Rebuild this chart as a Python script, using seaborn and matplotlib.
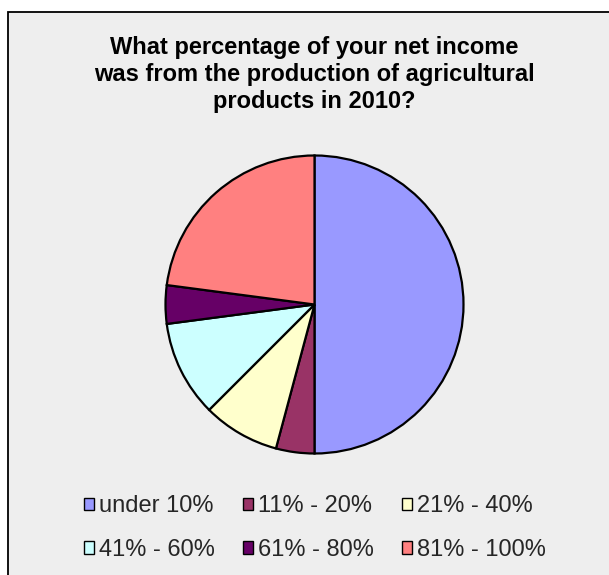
import matplotlib
matplotlib.use("Agg")
import matplotlib.pyplot as plt
from matplotlib.patches import Rectangle, Patch
import seaborn as sns

# Survey responses (count of respondents per income share band)
categories = ["under 10%", "11% - 20%", "21% - 40%", "41% - 60%", "61% - 80%", "81% - 100%"]
counts = [24, 2, 4, 5, 2, 11]
slice_colors = ["#9999FF", "#993366", "#FFFFCC", "#CCFFFF", "#660066", "#FF8080"]
title = "What percentage of your net income\nwas from the production of agricultural\nproducts in 2010?"

sns.set_style("white")
plt.rcParams["font.family"] = ["Liberation Sans", "DejaVu Sans"]

W, H = 609, 575
fig = plt.figure(figsize=(W / 100, H / 100), dpi=100)
fig.patch.set_facecolor("white")

# Chart area panel with a dark border
bg = "#EEEEEE"
panel = Rectangle((7.5 / W, -0.01), 1.05, (H - 11.5) / H + 0.01,
                  transform=fig.transFigure, facecolor=bg, edgecolor="black",
                  linewidth=1.3, zorder=-5)
fig.patches.append(panel)

# Pie axes
cx, cy, r = 314.5, 304.5, 149
ax = fig.add_axes([(cx - r) / W, (H - cy - r) / H, 2 * r / W, 2 * r / H])
ax.set_zorder(2)
ax.set_facecolor("none")
palette = sns.color_palette(slice_colors)
wedges, _ = ax.pie(counts, colors=palette, startangle=90, counterclock=False,
                   radius=1.0, wedgeprops=dict(edgecolor="black", linewidth=1.6))
for w in wedges:
    w.set_clip_on(False)
ax.set_xlim(-1.0, 1.0)
ax.set_ylim(-1.0, 1.0)
ax.set_aspect("equal")
ax.axis("off")

fig.text(cx / W, 1 - 36 / H, title, ha="center", va="top", fontsize=17,
         fontweight="bold", linespacing=1.22, color="black", zorder=3)

# Legend laid out in two rows of three (matplotlib fills column by column)
handles = [Patch(facecolor=c, edgecolor="black", linewidth=1.0) for c in palette]
order = [0, 3, 1, 4, 2, 5]
leg = fig.legend([handles[i] for i in order], [categories[i] for i in order],
                 ncol=3, loc="center", bbox_to_anchor=(315 / W, 1 - 528 / H),
                 frameon=False, fontsize=17, handlelength=0.42, handleheight=0.42,
                 handletextpad=0.2, columnspacing=1.2, labelspacing=0.92,
                 borderaxespad=0)
leg.set_zorder(3)

fig.savefig("out.png", dpi=100, facecolor="white")
